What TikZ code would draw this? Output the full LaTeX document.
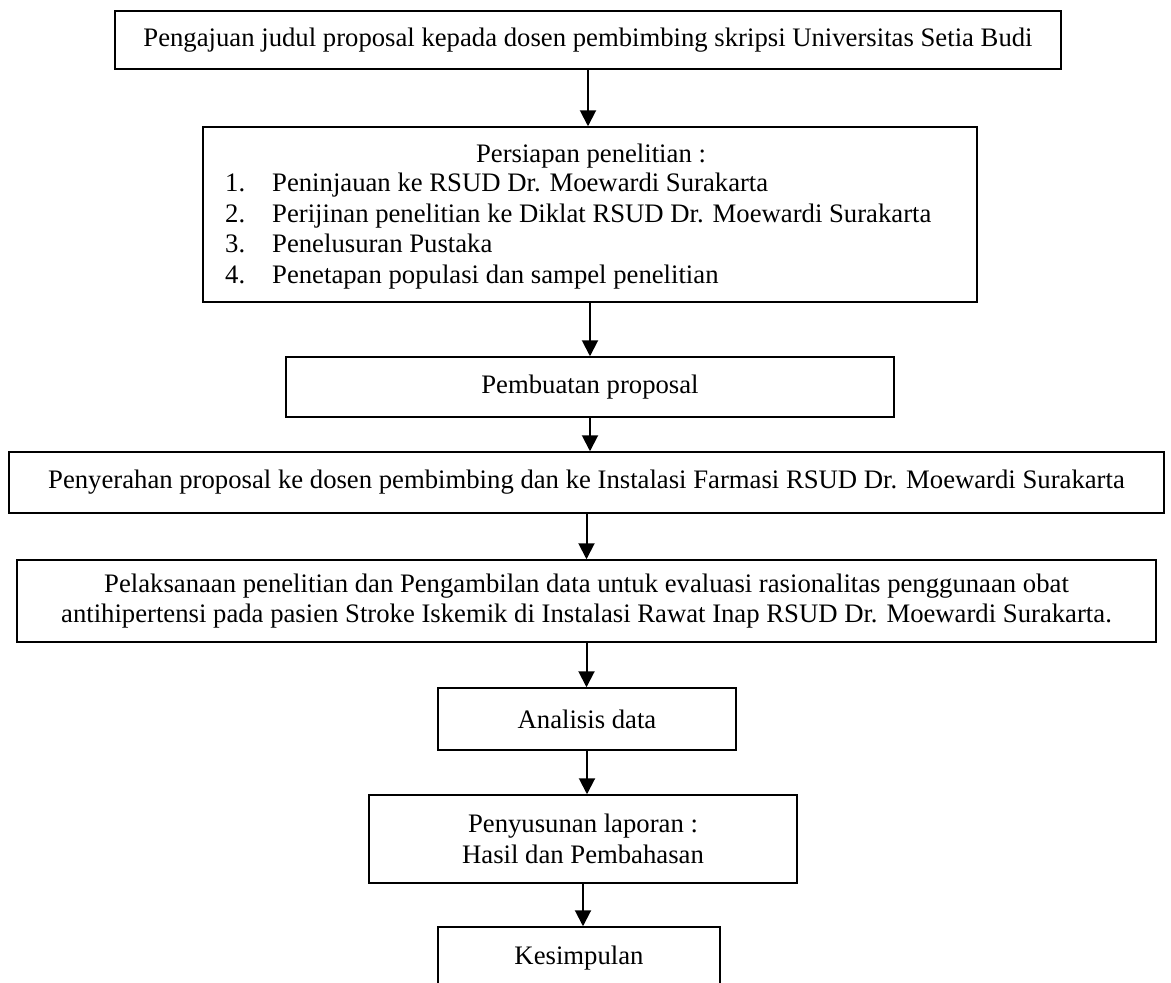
\documentclass[tikz,border=0pt]{standalone}
\usepackage{fontspec}
\setmainfont{Liberation Serif}
\usetikzlibrary{arrows.meta}

\begin{document}
\begin{tikzpicture}[x=1pt, y=-1pt,
    txt/.style={font=\fontsize{26.7}{30.5}\selectfont},
    box/.style={txt, draw, rectangle, line width=1.5pt, inner sep=0pt, align=center},
    arr/.style={line width=2pt, -{Triangle[length=16pt, width=16pt]}}]
    \useasboundingbox (0,0) rectangle (1171,983);
    \clip (0,0) rectangle (1171,983);

    % Draw boxes
    \node[box, minimum width=946pt, minimum height=58pt] (judul) at (588,40) {Pengajuan judul proposal kepada dosen pembimbing skripsi Universitas Setia Budi};

    \node[box, minimum width=774pt, minimum height=175pt] (persiapan) at (590,214.5) {};
    \node[txt, anchor=base] (persiapanjudul) at (591,162) {Persiapan penelitian :};
    \node[txt, anchor=base west, inner sep=0pt] (persiapanlist) at (225,191.5) {%
        \begin{tabular}[t]{@{}p{47pt}@{}l@{}}
        1. & Peninjauan ke RSUD Dr. Moewardi Surakarta\\
        2. & Perijinan penelitian ke Diklat RSUD Dr. Moewardi Surakarta\\
        3. & Penelusuran Pustaka\\
        4. & Penetapan populasi dan sampel penelitian
        \end{tabular}};

    \node[box, minimum width=608pt, minimum height=60pt] (proposal) at (590,387) {Pembuatan proposal};
    \node[box, minimum width=1155pt, minimum height=61pt] (penyerahan) at (586.5,482.5) {Penyerahan proposal ke dosen pembimbing dan ke Instalasi Farmasi RSUD Dr. Moewardi Surakarta};
    \node[box, minimum width=1139pt, minimum height=82pt] (pelaksanaan) at (586.5,601) {Pelaksanaan penelitian dan Pengambilan data untuk evaluasi rasionalitas penggunaan obat\\antihipertensi pada pasien Stroke Iskemik di Instalasi Rawat Inap RSUD Dr. Moewardi Surakarta.};
    \node[box, minimum width=298pt, minimum height=62pt] (analisis) at (587,719) {Analisis data};
    \node[box, minimum width=428pt, minimum height=88pt] (laporan) at (583,839) {Penyusunan laporan :\\Hasil dan Pembahasan};
    \node[box, minimum width=282pt, minimum height=62pt] (kesimpulan) at (579,958) {Kesimpulan};

    % Draw arrows
    \draw[arr] (judul.south) -- (judul.south |- persiapan.north);
    \draw[arr] (persiapan.south) -- (persiapan.south |- proposal.north);
    \draw[arr] (proposal.south) -- (proposal.south |- penyerahan.north);
    \draw[arr] (penyerahan.south) -- (penyerahan.south |- pelaksanaan.north);
    \draw[arr] (pelaksanaan.south) -- (pelaksanaan.south |- analisis.north);
    \draw[arr] (analisis.south) -- (analisis.south |- laporan.north);
    \draw[arr] (laporan.south) -- (laporan.south |- kesimpulan.north);
\end{tikzpicture}
\end{document}
